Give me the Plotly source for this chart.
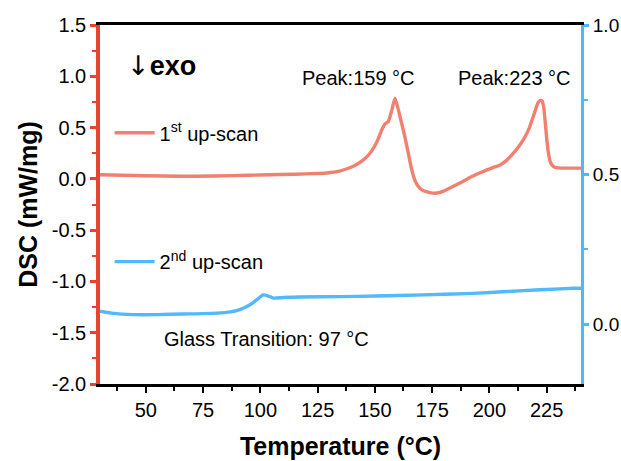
import plotly.graph_objects as go

# First heating scan (mW/mg, left axis)
temp_scan1 = [30, 40, 50, 65, 80, 95, 104, 115, 125, 130, 135, 139, 142, 145, 147.5,
              149.4, 151.3, 153.0, 154.5, 155.9, 157.4, 158.8, 160.3, 161.7, 163.2,
              164.6, 166.1, 167.6, 169, 170.5, 172.5, 174.5, 176.3, 178, 180, 183.6,
              188, 192.3, 196, 198.9, 201.5, 204.7, 207.5, 210.5, 213, 215.6, 217.5,
              219.2, 220.5, 221.4, 222.3, 223, 223.7, 224.3, 225, 225.8, 226.7, 228,
              230, 235, 240]
dsc_scan1 = [0.04, 0.035, 0.03, 0.025, 0.028, 0.035, 0.04, 0.045, 0.052, 0.06, 0.078,
             0.108, 0.14, 0.185, 0.24, 0.30, 0.38, 0.477, 0.536, 0.56, 0.67, 0.786,
             0.67, 0.54, 0.40, 0.25, 0.09, -0.02, -0.075, -0.107, -0.125, -0.137,
             -0.14, -0.135, -0.12, -0.08, -0.03, 0.022, 0.06, 0.088, 0.11, 0.136,
             0.18, 0.25, 0.32, 0.41, 0.5, 0.61, 0.70, 0.75, 0.765, 0.76, 0.70, 0.575,
             0.40, 0.25, 0.16, 0.12, 0.107, 0.105, 0.105]

# Second heating scan (right axis)
temp_scan2 = [30, 35, 44.5, 55, 66.4, 81, 87, 89.7, 92.5, 95.5, 98.5, 101.3, 103.5,
              105.7, 110, 117.3, 134.8, 150, 171.2, 190, 200.3, 214.8, 225, 236.7, 240]
dsc_scan2 = [0.043, 0.037, 0.032, 0.032, 0.034, 0.037, 0.041, 0.045, 0.053, 0.065,
             0.082, 0.098, 0.094, 0.087, 0.089, 0.091, 0.092, 0.094, 0.098, 0.102,
             0.106, 0.112, 0.116, 0.12, 0.12]

left_ticks = [-2.0, -1.5, -1.0, -0.5, 0.0, 0.5, 1.0, 1.5]
left_tick_labels = ["-2.0", "-1.5", "-1.0", "-0.5", "0.0", "0.5", "1.0", "1.5"]
right_ticks = [0.0, 0.5, 1.0]
right_tick_labels = ["0.0", "0.5", "1.0"]
x_ticks = [50, 75, 100, 125, 150, 175, 200, 225]

peak1_T = 159
peak2_T = 223
tg_T = 97

RED_AXIS = "#E8432F"
RED_LINE = "#F08070"
BLUE_AXIS = "#4DB8FF"
BLUE_LINE = "#52B9FA"
FONT = "Liberation Sans, Arial, sans-serif"

fig = go.Figure()
fig.add_trace(go.Scatter(
    x=temp_scan1, y=dsc_scan1, mode="lines", name="1<sup>st</sup> up-scan",
    line=dict(color=RED_LINE, width=3.4, shape="spline", smoothing=0.5),
    showlegend=True, legend="legend"))
fig.add_trace(go.Scatter(
    x=temp_scan2, y=dsc_scan2, mode="lines", name="2<sup>nd</sup> up-scan",
    line=dict(color=BLUE_LINE, width=3.4, shape="spline", smoothing=0.5),
    yaxis="y2", showlegend=True, legend="legend2"))

fig.add_annotation(x=142.7, y=0.98, xref="x", yref="y", text=f"Peak:{peak1_T} °C",
                   showarrow=False, font=dict(size=20, color="black"))
fig.add_annotation(x=210.8, y=0.98, xref="x", yref="y", text=f"Peak:{peak2_T} °C",
                   showarrow=False, font=dict(size=20, color="black"))
fig.add_annotation(x=102.9, y=-1.56, xref="x", yref="y",
                   text=f"Glass Transition: {tg_T} °C",
                   showarrow=False, font=dict(size=20, color="black"))
fig.add_annotation(x=41.0, y=1.11, xref="x", yref="y", xanchor="left",
                   text="<span style=\"font-family:DejaVu Sans\">↓</span><b>exo</b>",
                   showarrow=False, font=dict(size=27, color="black"))

fig.update_layout(
    width=621, height=461,
    margin=dict(l=100, r=40, t=25, b=77),
    paper_bgcolor="white", plot_bgcolor="white",
    font=dict(family=FONT, size=20, color="black"),
    showlegend=True,
    legend=dict(x=0.02, y=0.70, xanchor="left", yanchor="middle",
                bgcolor="rgba(0,0,0,0)", font=dict(size=20), itemwidth=40),
    legend2=dict(x=0.02, y=0.341, xanchor="left", yanchor="middle",
                 bgcolor="rgba(0,0,0,0)", font=dict(size=20), itemwidth=40),
    xaxis=dict(
        range=[30, 240], tickvals=x_ticks, showgrid=False, zeroline=False,
        showline=True, linecolor="black", linewidth=3, mirror=True,
        ticks="outside", ticklen=6, tickwidth=2, tickcolor="black",
        minor=dict(dtick=12.5, tick0=0, ticks="outside", ticklen=4,
                   tickwidth=2, tickcolor="black"),
        tickfont=dict(size=20), automargin=False,
        title=dict(text="<b>Temperature (°C)</b>", font=dict(size=25), standoff=18),
    ),
    yaxis=dict(
        range=[-2.0, 1.5], tickvals=left_ticks, ticktext=left_tick_labels,
        showgrid=False, zeroline=False,
        showline=True, linecolor=RED_AXIS, linewidth=3.5,
        ticks="outside", ticklen=6, tickwidth=2.5, tickcolor=RED_AXIS,
        minor=dict(dtick=0.25, tick0=0, ticks="outside", ticklen=4,
                   tickwidth=2, tickcolor=RED_AXIS),
        tickfont=dict(size=20), automargin=False,
        title=dict(text="<b>DSC (mW/mg)</b>", font=dict(size=25), standoff=8),
    ),
    yaxis2=dict(
        range=[-0.2, 1.0], overlaying="y", side="right",
        tickvals=right_ticks, ticktext=right_tick_labels,
        showgrid=False, zeroline=False,
        showline=True, linecolor=BLUE_AXIS, linewidth=3,
        ticks="outside", ticklen=5, tickwidth=2.5, tickcolor=BLUE_AXIS,
        minor=dict(dtick=0.25, tick0=0, ticks="outside", ticklen=4,
                   tickwidth=2, tickcolor=BLUE_AXIS),
        tickfont=dict(size=19), automargin=False,
    ),
)

fig.write_html("out.html")
